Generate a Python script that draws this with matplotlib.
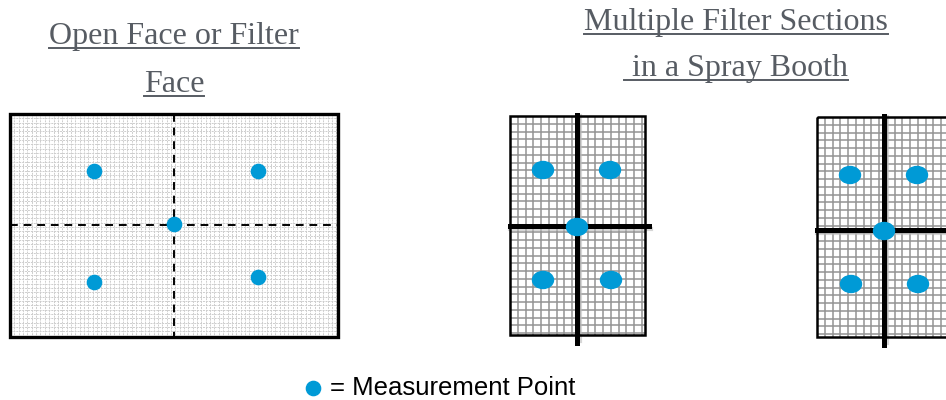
import matplotlib.pyplot as plt
from matplotlib.patches import Ellipse, Rectangle
import numpy as np

# panels: (left, top, right, bottom) in pixels of the 946x400 picture
panel_boxes = [(10, 114, 338, 337), (510, 116, 645, 335), (817, 117, 952, 337)]
grid_steps = [4.35, 7.75, 7.75]
cross_x = [174, 577, 884]
cross_y = [225, 226, 230]

# measurement points per panel
pts_x = [[94, 258, 174, 94, 258],
         [543, 610, 577, 543, 611],
         [850, 917, 884, 851, 918]]
pts_y = [[171, 171, 224, 282, 277],
         [170, 170, 227, 280, 280],
         [175, 175, 231, 284, 284]]

titles = [["Open Face or Filter", "Face"],
          ["Multiple Filter Sections", " in a Spray Booth"]]
title_x = [174, 736]
title_base = [[44, 92], [30, 76]]

BLUE = "#009ad6"
TITLE_GRAY = "#575c63"

fig = plt.figure(figsize=(9.46, 4.0), dpi=100)
ax = fig.add_axes([0, 0, 1, 1])
ax.set_xlim(0, 946)
ax.set_ylim(400, 0)
ax.axis("off")

for i, (l, t, r, b) in enumerate(panel_boxes):
    step = grid_steps[i]
    if i == 0:
        gc, glw, gls = "#cdcdcd", 0.7, (0, (2, 1))
    else:
        gc, glw, gls = "#939393", 1.1, "-"
    xs = np.arange(l + step, r, step)
    ys = np.arange(t + step, b, step)
    ax.vlines(xs, t, b, colors=gc, lw=glw, linestyles=gls, zorder=1)
    ax.hlines(ys, l, r, colors=gc, lw=glw, linestyles=gls, zorder=1)
    ax.add_patch(Rectangle((l, t), r - l, b - t, fill=False,
                           ec="black", lw=2.4 if i == 0 else 1.8, zorder=3))
    if i == 0:
        ax.plot([cross_x[i], cross_x[i]], [t, b], color="black", lw=1.4,
                ls=(0, (4, 3)), zorder=2)
        ax.plot([l, r], [cross_y[i], cross_y[i]], color="black", lw=1.4,
                ls=(0, (4, 3)), zorder=2)
        ax.scatter(pts_x[i], pts_y[i], s=105, color=BLUE, zorder=5)
    else:
        # soft shadow next to the thick cross
        ax.plot([cross_x[i] + 3, cross_x[i] + 3], [t, b + 6], color="#bbbbbb",
                lw=3, alpha=0.6, zorder=2)
        ax.plot([l, r + 6], [cross_y[i] + 3, cross_y[i] + 3], color="#bbbbbb",
                lw=3, alpha=0.6, zorder=2)
        ax.plot([cross_x[i], cross_x[i]], [t - 1, b + 8], color="black",
                lw=3.6, zorder=3)
        ax.plot([l, r + 4], [cross_y[i], cross_y[i]], color="black",
                lw=3.6, zorder=3)
        for px, py in zip(pts_x[i], pts_y[i]):
            ax.add_patch(Ellipse((px, py), 21, 17, color=BLUE, zorder=5))

# titles with underline
title_texts = []
for lines, tx, tys in zip(titles, title_x, title_base):
    for s, ty in zip(lines, tys):
        txt = ax.text(tx, ty, s, ha="center", va="baseline", fontsize=23,
                      family="Liberation Serif", color=TITLE_GRAY)
        title_texts.append((txt, ty))

fig.canvas.draw()
renderer = fig.canvas.get_renderer()
inv = ax.transData.inverted()
for txt, ty in title_texts:
    bb = txt.get_window_extent(renderer)
    (x0, _), (x1, _) = inv.transform([(bb.x0, bb.y0), (bb.x1, bb.y1)])
    ax.plot([x0, x1], [ty + 4, ty + 4], color=TITLE_GRAY, lw=1.4, zorder=4)

# legend
ax.scatter([313], [388], s=105, color=BLUE, zorder=5)
ax.text(330, 388, "= Measurement Point", ha="left", va="center",
        fontsize=18.5, family="Liberation Sans", color="black")

fig.savefig("out.png", dpi=100)
